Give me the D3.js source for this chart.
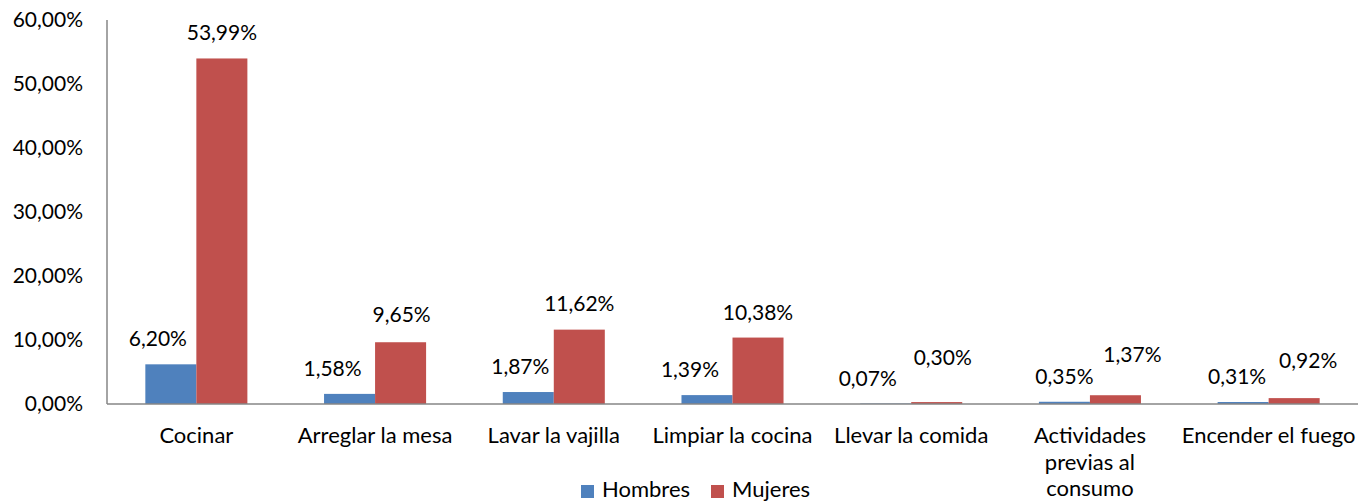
<!DOCTYPE html>
<html>
<head>
<meta charset="utf-8">
<script src="https://cdn.jsdelivr.net/npm/d3@7"></script>
<style>
  body { margin: 0; background: #fff; }
  svg { display: block; }
  text { font-family: Lato, "Open Sans", sans-serif; fill: #000; }
</style>
</head>
<body>
<svg id="chart" width="1367" height="501"></svg>
<script>
// Share of each kitchen task (%), by sex
const categories = [
  "Cocinar",
  "Arreglar la mesa",
  "Lavar la vajilla",
  "Limpiar la cocina",
  "Llevar la comida",
  "Actividades\nprevias al\nconsumo",
  "Encender el fuego"
];
const hombres = [6.20, 1.58, 1.87, 1.39, 0.07, 0.35, 0.31];
const mujeres = [53.99, 9.65, 11.62, 10.38, 0.30, 1.37, 0.92];
const seriesNames = ["Hombres", "Mujeres"];
const yTicks = [0, 10, 20, 30, 40, 50, 60];

// Layout
const plot = { left: 107, right: 1358, top: 20, bottom: 404 };
const colors = { Hombres: "#4F81BD", Mujeres: "#C0504D" };
const numSize = 21;   // tick + value labels
const textSize = 22;  // category + legend labels
// small per-label nudges so neighbouring value labels don't collide
const labelNudge = {
  Hombres: { dx: [-13, -17, -8, -17, -18, 0, -6], dy: [0, 0, 0, 0, 0, 0, 0] },
  Mujeres: { dx: [0, 1, 0, 0, 6, 17, 14], dy: [0, -2, -1, 0, -19, -15, -12] }
};

const fmt = v => v.toFixed(2).replace(".", ",") + "%";

const svg = d3.select("#chart");

const x = d3.scaleBand()
  .domain(categories)
  .range([plot.left, plot.right])
  .paddingInner(0.429)
  .paddingOuter(0.2145);

const xs = d3.scaleBand()
  .domain(seriesNames)
  .range([0, x.bandwidth()]);

const y = d3.scaleLinear()
  .domain([0, 60])
  .range([plot.bottom, plot.top]);

const seriesData = seriesNames.map(name => ({
  name,
  values: (name === "Hombres" ? hombres : mujeres)
}));

// y tick labels
svg.append("g")
  .selectAll("text")
  .data(yTicks)
  .join("text")
  .attr("x", plot.left - 24)
  .attr("y", d => y(d))
  .attr("dy", "0.35em")
  .attr("text-anchor", "end")
  .style("font-size", numSize + "px")
  .text(d => fmt(d));

// bars
const groups = svg.append("g")
  .selectAll("g")
  .data(seriesData)
  .join("g")
  .attr("fill", d => colors[d.name]);

groups.selectAll("rect")
  .data(d => d.values.map((v, i) => ({ name: d.name, v, i })))
  .join("rect")
  .attr("x", d => x(categories[d.i]) + xs(d.name))
  .attr("width", xs.bandwidth())
  .attr("y", d => y(d.v))
  .attr("height", d => y(0) - y(d.v));

// axis lines
svg.append("line")
  .attr("x1", plot.left).attr("x2", plot.left)
  .attr("y1", plot.top).attr("y2", plot.bottom)
  .attr("stroke", "#868686").attr("stroke-width", 1.5);
svg.append("line")
  .attr("x1", plot.left).attr("x2", plot.right)
  .attr("y1", plot.bottom).attr("y2", plot.bottom)
  .attr("stroke", "#868686").attr("stroke-width", 1.5);

// value labels
groups.selectAll("text")
  .data(d => d.values.map((v, i) => ({ name: d.name, v, i })))
  .join("text")
  .attr("x", d => x(categories[d.i]) + xs(d.name) + xs.bandwidth() / 2 + labelNudge[d.name].dx[d.i])
  .attr("y", d => y(d.v) - 18 + labelNudge[d.name].dy[d.i])
  .attr("text-anchor", "middle")
  .style("font-size", numSize + "px")
  .style("fill", "#000")
  .text(d => fmt(d.v));

// category labels
const catG = svg.append("g")
  .selectAll("text")
  .data(categories)
  .join("text")
  .attr("text-anchor", "middle")
  .style("font-size", textSize + "px");
catG.selectAll("tspan")
  .data(d => d.split("\n").map((line, k) => ({ line, k, c: d })))
  .join("tspan")
  .attr("x", d => x(d.c) + x.bandwidth() / 2)
  .attr("y", d => 443 + d.k * 26.5)
  .text(d => d.line);

// legend
const legend = svg.append("g");
const legendX = [581, 711];
seriesNames.forEach((name, i) => {
  legend.append("rect")
    .attr("x", legendX[i]).attr("y", 485)
    .attr("width", 13).attr("height", 13)
    .attr("fill", colors[name]);
  legend.append("text")
    .attr("x", legendX[i] + 21).attr("y", 497)
    .style("font-size", textSize + "px")
    .text(name);
});
</script>
</body>
</html>
